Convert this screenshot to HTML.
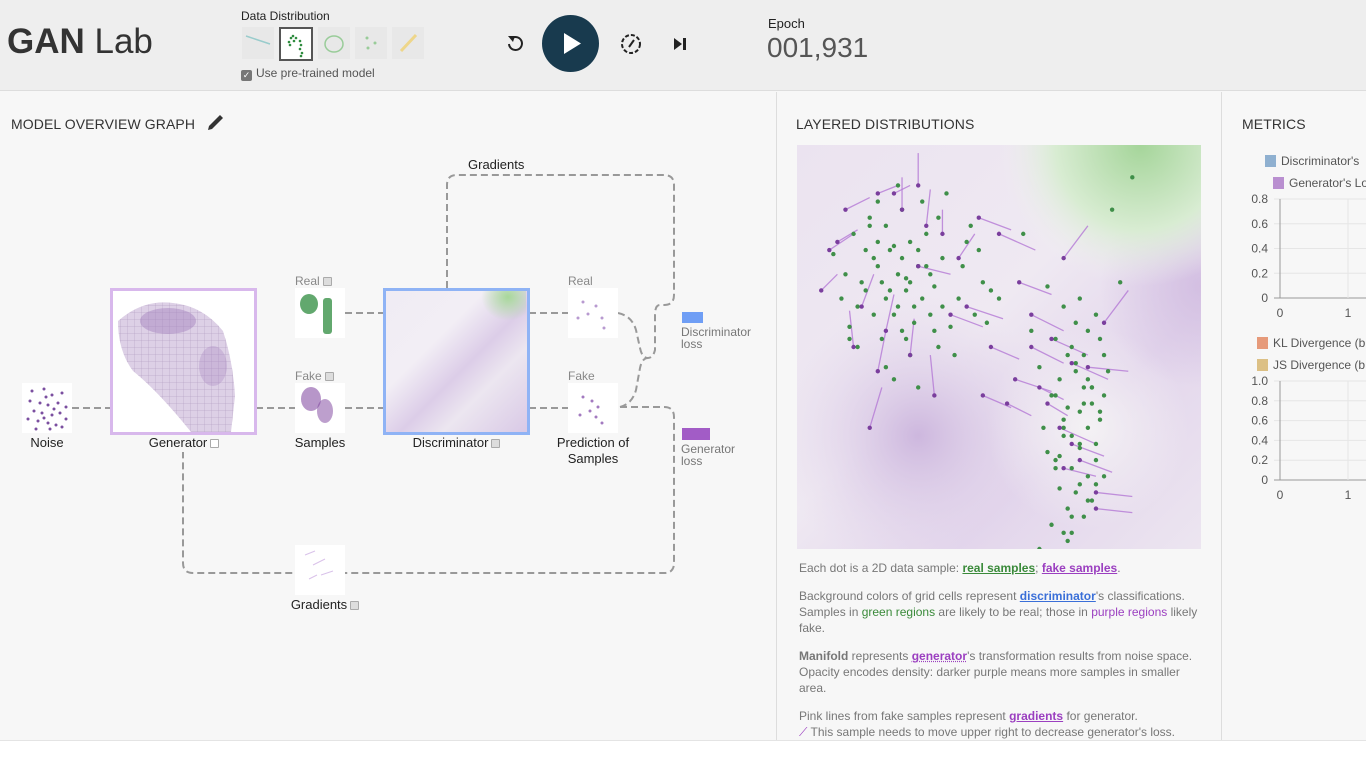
<!DOCTYPE html>
<html><head><meta charset="utf-8"><style>
*{box-sizing:border-box;margin:0;padding:0}
body{width:1366px;height:767px;overflow:hidden;background:#f7f7f7;font-family:"Liberation Sans",sans-serif;position:relative;color:#333}
.a{position:absolute;white-space:nowrap}
.hdr{left:0;top:0;width:1366px;height:91px;background:#eeeeee;border-bottom:1px solid #ddd}
.sec{font-size:14px;color:#333;letter-spacing:.1px}
.lbl{font-size:13px;color:#222;text-align:center}
.sm{font-size:12px;color:#888}
.thumb{background:#fff}
.cb{display:inline-block;width:9px;height:9px;border:1px solid #aaa;background:#ddd;vertical-align:middle;margin-left:3px;border-radius:1px}
.txt{font-size:12px;color:#777;line-height:16px;white-space:normal}
</style></head><body>
<div class="a hdr"></div>
<div class="a" style="left:7px;top:22px;font-size:35px;color:#333"><b>GAN</b> Lab</div>
<div class="a" style="left:241px;top:9px;font-size:12px;color:#222">Data Distribution</div>
<div class="a" style="left:242px;top:27px;width:32px;height:32px;background:#e8e8e8"><svg width="32" height="32"><line x1="4" y1="9" x2="28" y2="17" stroke="#9cc" stroke-width="1.5"/></svg></div>
<div class="a" style="left:279px;top:27px;width:34px;height:34px;background:#fff;border:2px solid #555"><svg width="30" height="30"><g fill="#2e8b3e"><circle cx="10" cy="9" r="1.3"/><circle cx="13" cy="12" r="1.3"/><circle cx="8" cy="13" r="1.3"/><circle cx="12" cy="7" r="1.3"/><circle cx="15" cy="9" r="1.3"/><circle cx="9" cy="16" r="1.3"/><circle cx="19" cy="12" r="1.3"/><circle cx="20" cy="16" r="1.3"/><circle cx="19" cy="20" r="1.3"/><circle cx="21" cy="24" r="1.3"/><circle cx="20" cy="27" r="1.3"/></g></svg></div>
<div class="a" style="left:318px;top:27px;width:32px;height:32px;background:#e8e8e8"><svg width="32" height="32"><ellipse cx="16" cy="17" rx="9" ry="8" fill="none" stroke="#9c9" stroke-width="1.5"/></svg></div>
<div class="a" style="left:355px;top:27px;width:32px;height:32px;background:#e8e8e8"><svg width="32" height="32"><circle cx="12" cy="11" r="1.5" fill="#9c9"/><circle cx="20" cy="16" r="1.5" fill="#9c9"/><circle cx="13" cy="21" r="1.5" fill="#9c9"/></svg></div>
<div class="a" style="left:392px;top:27px;width:32px;height:32px;background:#e8e8e8"><svg width="32" height="32"><line x1="9" y1="24" x2="24" y2="8" stroke="#eed68a" stroke-width="3"/></svg></div>
<div class="a" style="left:241px;top:66px;font-size:12px;color:#555"><span style="display:inline-block;width:11px;height:11px;background:#777;border-radius:2px;vertical-align:-1px;margin-right:4px;color:#fff;font-size:9px;text-align:center;line-height:11px">✓</span>Use pre-trained model</div>
<div class="a" style="left:505px;top:33px"><svg width="20" height="20"><path d="M4 11 A6.5 6.5 0 1 0 7 5" fill="none" stroke="#222" stroke-width="2"/><polygon points="3,3 10,3 8,9" fill="#222"/></svg></div>
<div class="a" style="left:542px;top:15px;width:57px;height:57px;border-radius:50%;background:#183a4e"><svg width="57" height="57"><polygon points="22,18 22,39 39,28.5" fill="#fff"/></svg></div>
<div class="a" style="left:620px;top:33px"><svg width="22" height="22"><circle cx="11" cy="11" r="9" fill="none" stroke="#222" stroke-width="2" stroke-dasharray="4 2"/><line x1="9" y1="14" x2="14" y2="7" stroke="#222" stroke-width="2"/></svg></div>
<div class="a" style="left:672px;top:36px"><svg width="16" height="16"><polygon points="2,2 2,14 10,8" fill="#222"/><rect x="11" y="2" width="3" height="12" fill="#222"/></svg></div>
<div class="a" style="left:768px;top:16px;font-size:13px;color:#222">Epoch</div>
<div class="a" style="left:767px;top:32px;font-size:28px;color:#555">001,931</div>

<div class="a" style="left:776px;top:92px;width:1px;height:648px;background:#ddd"></div>
<div class="a" style="left:1221px;top:92px;width:1px;height:648px;background:#ddd"></div>
<div class="a" style="left:0;top:740px;width:1366px;height:27px;background:#fff;border-top:1px solid #e4e4e4"></div>

<div class="a sec" style="left:11px;top:116px">MODEL OVERVIEW GRAPH</div>
<div class="a" style="left:205px;top:113px"><svg width="22" height="20"><path d="M3 17 L4 13 L15 2 L18 5 L7 16 Z" fill="#333"/></svg></div>
<div class="a sec" style="left:796px;top:116px">LAYERED DISTRIBUTIONS</div>
<div class="a sec" style="left:1242px;top:116px">METRICS</div>

<svg class="a" style="left:0;top:0" width="776" height="740">
<g fill="none" stroke="#999" stroke-width="2" stroke-dasharray="7 4">
<path d="M447 288 V185 Q447 175 457 175 H664 Q674 175 674 185 V295 Q674 305 664 305 L660 305 Q655 305 655 315 V350 Q653 358 648 358"/>
<path d="M618 313 Q632 316 636 330 L640 348 Q642 358 648 358"/>
<path d="M620 407 Q632 404 636 390 L640 368 Q642 358 648 358"/>
<path d="M620 407 H664 Q674 407 674 417 V563 Q674 573 664 573 H193 Q183 573 183 563 V452"/>
<path d="M72 408 H111"/><path d="M256 408 H295"/><path d="M345 313 H384"/><path d="M345 408 H384"/><path d="M529 313 H568"/><path d="M529 408 H568"/>
</g></svg>
<div class="a" style="left:468px;top:157px;font-size:13px;color:#222">Gradients</div>

<div class="a thumb" style="left:22px;top:383px;width:50px;height:50px"><svg width="50" height="50"><g fill="#7b4fa0"><circle cx="10" cy="8" r="1.5"/><circle cx="22" cy="6" r="1.5"/><circle cx="30" cy="12" r="1.5"/><circle cx="40" cy="10" r="1.5"/><circle cx="8" cy="18" r="1.5"/><circle cx="18" cy="20" r="1.5"/><circle cx="26" cy="22" r="1.5"/><circle cx="36" cy="20" r="1.5"/><circle cx="44" cy="24" r="1.5"/><circle cx="12" cy="28" r="1.5"/><circle cx="20" cy="30" r="1.5"/><circle cx="30" cy="32" r="1.5"/><circle cx="38" cy="30" r="1.5"/><circle cx="6" cy="36" r="1.5"/><circle cx="16" cy="38" r="1.5"/><circle cx="26" cy="40" r="1.5"/><circle cx="34" cy="42" r="1.5"/><circle cx="44" cy="36" r="1.5"/><circle cx="14" cy="46" r="1.5"/><circle cx="28" cy="46" r="1.5"/><circle cx="24" cy="14" r="1.5"/><circle cx="32" cy="26" r="1.5"/><circle cx="22" cy="35" r="1.5"/><circle cx="40" cy="44" r="1.5"/></g></svg></div>
<div class="a lbl" style="left:22px;top:435px;width:50px">Noise</div>
<div class="a thumb" style="left:110px;top:288px;width:147px;height:147px;border:3px solid #d8b8ec"><svg width="141" height="141"><defs><pattern id="gr" width="7" height="7" patternUnits="userSpaceOnUse"><path d="M7 0H0V7" fill="none" stroke="#7a5a90" stroke-width=".5"/></pattern></defs><path d="M5 30 Q30 8 60 12 Q90 15 110 40 Q120 70 122 105 L118 141 H78 Q45 100 20 80 Q5 60 5 30Z" fill="#ddd0e6"/><path d="M5 30 Q30 8 60 12 Q90 15 110 40 Q120 70 122 105 L118 141 H78 Q45 100 20 80 Q5 60 5 30Z" fill="url(#gr)" opacity=".5"/><ellipse cx="55" cy="30" rx="28" ry="13" fill="#a27fbd" opacity=".45"/><ellipse cx="100" cy="75" rx="14" ry="20" fill="#a27fbd" opacity=".3"/></svg></div>
<div class="a lbl" style="left:111px;top:435px;width:146px">Generator<span class="cb" style="background:#fff"></span></div>
<div class="a sm" style="left:295px;top:274px">Real<span class="cb"></span></div>
<div class="a thumb" style="left:295px;top:288px;width:50px;height:50px"><svg width="50" height="50"><ellipse cx="14" cy="16" rx="9" ry="10" fill="#2e8b3e" opacity=".75"/><rect x="28" y="10" width="9" height="36" rx="3" fill="#2e8b3e" opacity=".75"/></svg></div>
<div class="a sm" style="left:295px;top:369px">Fake<span class="cb"></span></div>
<div class="a thumb" style="left:295px;top:383px;width:50px;height:50px"><svg width="50" height="50"><ellipse cx="16" cy="16" rx="10" ry="12" fill="#7b3f9c" opacity=".55"/><ellipse cx="30" cy="28" rx="8" ry="12" fill="#7b3f9c" opacity=".5"/></svg></div>
<div class="a lbl" style="left:285px;top:435px;width:70px">Samples</div>
<div class="a" style="left:383px;top:288px;width:147px;height:147px;border:3px solid #8fb3f5;background:linear-gradient(135deg,#f0ecf4 0%,#f2eef5 35%,#dccde8 55%,#ece6f0 70%,#d9c9e6 100%)"><div class="a" style="left:95px;top:0;width:45px;height:30px;background:radial-gradient(ellipse at 60% 20%,#a7d89a,rgba(220,240,215,0) 70%)"></div></div>
<div class="a lbl" style="left:383px;top:435px;width:147px">Discriminator<span class="cb"></span></div>
<div class="a sm" style="left:568px;top:274px">Real</div>
<div class="a thumb" style="left:568px;top:288px;width:50px;height:50px"><svg width="50" height="50"><g fill="#b89ad0"><circle cx="15" cy="14" r="1.5"/><circle cx="28" cy="18" r="1.5"/><circle cx="34" cy="30" r="1.5"/><circle cx="20" cy="26" r="1.5"/><circle cx="36" cy="40" r="1.5"/><circle cx="10" cy="30" r="1.5"/></g></svg></div>
<div class="a sm" style="left:568px;top:369px">Fake</div>
<div class="a thumb" style="left:568px;top:383px;width:50px;height:50px"><svg width="50" height="50"><g fill="#a37ac0"><circle cx="15" cy="14" r="1.5"/><circle cx="24" cy="18" r="1.5"/><circle cx="30" cy="24" r="1.5"/><circle cx="22" cy="28" r="1.5"/><circle cx="28" cy="34" r="1.5"/><circle cx="12" cy="32" r="1.5"/><circle cx="34" cy="40" r="1.5"/></g></svg></div>
<div class="a lbl" style="left:548px;top:435px;width:90px;line-height:16px;white-space:normal">Prediction of Samples</div>
<div class="a" style="left:682px;top:312px;width:21px;height:11px;background:#6f9ef5"></div>
<div class="a" style="left:681px;top:326px;font-size:12px;color:#777;line-height:12px">Discriminator<br>loss</div>
<div class="a" style="left:682px;top:428px;width:28px;height:12px;background:#a25cc6"></div>
<div class="a" style="left:681px;top:443px;font-size:12px;color:#777;line-height:12px">Generator<br>loss</div>
<div class="a thumb" style="left:295px;top:545px;width:50px;height:50px"><svg width="50" height="50"><g stroke="#d9c2ea" stroke-width="1"><line x1="10" y1="10" x2="20" y2="6"/><line x1="18" y1="20" x2="30" y2="14"/><line x1="26" y1="30" x2="38" y2="26"/><line x1="14" y1="34" x2="22" y2="30"/></g></svg></div>
<div class="a lbl" style="left:280px;top:597px;width:90px">Gradients<span class="cb"></span></div>

<svg id="plot" class="a" style="left:797px;top:145px" width="404" height="404">
<defs>
<linearGradient id="bg" x1="0" y1="0" x2="1" y2="1"><stop offset="0" stop-color="#ebe3f0"/><stop offset=".45" stop-color="#efe9f2"/><stop offset=".7" stop-color="#e3d6ec"/><stop offset="1" stop-color="#ece5f0"/></linearGradient>
<radialGradient id="gn" cx=".85" cy="0" r=".35"><stop offset="0" stop-color="#a5d59a"/><stop offset=".6" stop-color="#d8ecd2"/><stop offset="1" stop-color="#f1f1f1" stop-opacity="0"/></radialGradient>
<radialGradient id="pp" cx=".3" cy=".72" r=".35"><stop offset="0" stop-color="#cdb7de"/><stop offset="1" stop-color="#e3d6ec" stop-opacity="0"/></radialGradient>
<radialGradient id="wh" cx=".72" cy=".7" r=".25"><stop offset="0" stop-color="#f4f2f4"/><stop offset="1" stop-color="#f4f2f4" stop-opacity="0"/></radialGradient>
<radialGradient id="pr" cx="1" cy=".35" r=".25"><stop offset="0" stop-color="#d3bfe2"/><stop offset="1" stop-color="#d3bfe2" stop-opacity="0"/></radialGradient>
</defs>
<rect width="404" height="404" fill="url(#bg)"/>
<rect width="404" height="404" fill="url(#pp)"/>
<rect width="404" height="404" fill="url(#wh)"/>
<rect width="404" height="404" fill="url(#pr)"/>
<rect width="404" height="404" fill="url(#gn)"/>
<g id="marks"></g>
</svg>
<script>
const realX=[14,18,22,24,26,28,30,12,16,20,23,27,31,34,36,15,19,25,29,33,38,41,21,17,26,32,35,40,44,22,28,9,13,37,43,46,24,30,18,27,33,39,48,11,20,31,42,25,35,15,
19,21,23,25,27,29,22,24,26,28,30,20,32,17,34,36,13,45,47,50,
62,66,70,74,64,68,72,76,60,65,69,73,77,63,67,71,75,61,66,70,74,64,68,72,65,69,73,67,71,63,68,74,62,70,66,72,64,69,75,71,80,58,83,78,56,73,67,60,76,65,
67,69,71,73,75,66,68,70,72,74,76,64,70,72,68,66];
const realY=[22,18,20,25,28,24,30,32,34,30,36,33,38,35,28,40,42,40,44,42,45,30,48,26,16,22,50,38,42,55,52,27,45,12,20,34,58,60,20,48,32,52,36,38,14,14,24,10,18,50,
28,34,26,32,36,40,38,42,46,34,26,24,30,36,46,40,48,26,44,38,
35,40,38,42,48,50,46,52,55,58,54,60,56,62,65,64,68,70,72,75,74,78,80,82,85,86,88,90,92,94,96,84,76,66,70,58,62,44,48,52,34,46,8,16,22,60,98,100,62,77,
52,56,60,64,66,68,72,74,70,78,82,80,84,88,92,96];
const fakeX=[12,8,20,26,32,36,40,45,50,55,60,65,70,16,22,28,34,42,48,54,58,63,68,72,74,6,18,30,38,52,66,76,62,10,24,30,14,20,46,58,66,74,68];
const fakeY=[16,26,12,16,20,22,28,18,22,34,60,70,78,40,46,52,62,40,50,58,42,48,54,55,90,36,70,30,42,64,28,44,64,24,12,10,50,56,62,50,80,86,74];
const gradDX=[6,6,5,0,1,0,4,8,9,8,6,9,8,3,2,1,-1,9,7,9,8,9,9,10,9,4,3,8,8,6,6,6,5,5,4,0,-1,2,7,8,8,9,8];
const gradDY=[-3,-4,-2,-8,-9,-6,-6,3,4,3,3,4,3,-8,-9,-9,-10,3,3,3,4,4,4,1,1,-4,-10,2,3,3,-8,-8,3,-3,-2,-8,-9,-10,3,4,2,1,3];
const xs=v=>v/100*404, ys=v=>v/100*404;
const g=document.getElementById('marks'),NS='http://www.w3.org/2000/svg';
for(let i=0;i<fakeX.length;i++){
 const l=document.createElementNS(NS,'line');
 
 
 l.setAttribute('x1',xs(fakeX[i]));l.setAttribute('y1',ys(fakeY[i]));
 l.setAttribute('x2',xs(fakeX[i]+gradDX[i]));l.setAttribute('y2',ys(fakeY[i]+gradDY[i]));
 l.setAttribute('stroke','#b57ad6');l.setAttribute('stroke-width','1.3');l.setAttribute('opacity','.8');g.appendChild(l);
}
for(let i=0;i<realX.length;i++){
 const c=document.createElementNS(NS,'circle');
 
 
 c.setAttribute('cx',xs(realX[i]));c.setAttribute('cy',ys(realY[i]));c.setAttribute('r','2.2');c.setAttribute('fill','#3f8f49');g.appendChild(c);
}
for(let i=0;i<fakeX.length;i++){
 const c=document.createElementNS(NS,'circle');
 
 
 c.setAttribute('cx',xs(fakeX[i]));c.setAttribute('cy',ys(fakeY[i]));c.setAttribute('r','2.2');c.setAttribute('fill','#7a3e9d');g.appendChild(c);
}
</script>

<div class="a txt" style="left:799px;top:560px;width:410px">
<p style="margin-bottom:12px">Each dot is a 2D data sample: <b style="color:#3a8a3a;text-decoration:underline">real samples</b>; <b style="color:#9b3fc0;text-decoration:underline">fake samples</b>.</p>
<p style="margin-bottom:12px">Background colors of grid cells represent <b style="color:#3a6fd8;text-decoration:underline">discriminator</b>'s classifications. Samples in <span style="color:#3a8a3a">green regions</span> are likely to be real; those in <span style="color:#9b3fc0">purple regions</span> likely fake.</p>
<p style="margin-bottom:12px"><b>Manifold</b> represents <b style="color:#9b3fc0;text-decoration:underline dotted">generator</b>'s transformation results from noise space. Opacity encodes density: darker purple means more samples in smaller area.</p>
<p>Pink lines from fake samples represent <b style="color:#9b3fc0;text-decoration:underline">gradients</b> for generator.<br><span style="color:#9b3fc0">⟋</span> This sample needs to move upper right to decrease generator's loss.</p>
</div>

<div class="a" style="left:1265px;top:154px;font-size:12px;color:#555"><span style="display:inline-block;width:11px;height:12px;background:#8fb0d0;vertical-align:-2px;margin-right:5px"></span>Discriminator's</div>
<div class="a" style="left:1273px;top:176px;font-size:12px;color:#555"><span style="display:inline-block;width:11px;height:12px;background:#b98fd0;vertical-align:-2px;margin-right:5px"></span>Generator's Lo</div>
<div class="a" style="left:1257px;top:336px;font-size:12px;color:#555"><span style="display:inline-block;width:11px;height:12px;background:#e69a7a;vertical-align:-2px;margin-right:5px"></span>KL Divergence (b</div>
<div class="a" style="left:1257px;top:358px;font-size:12px;color:#555"><span style="display:inline-block;width:11px;height:12px;background:#dcc085;vertical-align:-2px;margin-right:5px"></span>JS Divergence (b</div>
<svg class="a" style="left:1222px;top:190px" width="144" height="320"><g id="mx"></g></svg>
<script>
const lossTicks=["0","0.2","0.4","0.6","0.8"];
const divTicks=["0","0.2","0.4","0.6","0.8","1.0"];
const xTicks=["0","1"];
const mx=document.getElementById('mx');
function axis(top,bottom,ticks){
 const n=ticks.length-1;
 ticks.forEach((t,i)=>{const y=bottom-(bottom-top)*i/n;
  const l=document.createElementNS(NS,'line');
  
  
  l.setAttribute('x1',52);l.setAttribute('x2',144);l.setAttribute('y1',y);l.setAttribute('y2',y);l.setAttribute('stroke',i?'#e6e6e6':'#999');mx.appendChild(l);
  const tx=document.createElementNS(NS,'text');
  
  
  tx.setAttribute('x',46);tx.setAttribute('y',y+4);tx.setAttribute('text-anchor','end');tx.setAttribute('font-size','12');tx.setAttribute('fill','#555');tx.textContent=t;mx.appendChild(tx);});
 xTicks.forEach((t,i)=>{const x=58+68*i;
  const l=document.createElementNS(NS,'line');
  
  
  l.setAttribute('x1',x);l.setAttribute('x2',x);l.setAttribute('y1',top);l.setAttribute('y2',bottom);l.setAttribute('stroke',i?'#e6e6e6':'#999');mx.appendChild(l);
  const tx=document.createElementNS(NS,'text');
  
  
  tx.setAttribute('x',x);tx.setAttribute('y',bottom+19);tx.setAttribute('text-anchor','middle');tx.setAttribute('font-size','12');tx.setAttribute('fill','#555');tx.textContent=t;mx.appendChild(tx);});
}
axis(9,108,lossTicks);
axis(191,290,divTicks);
</script>
</body></html>
